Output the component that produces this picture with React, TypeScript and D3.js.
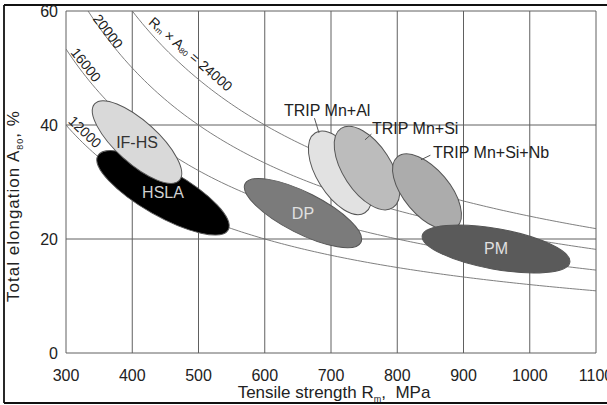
import React from "react";
import * as d3 from "d3";

// ---- data ----
const xTicks = [300, 400, 500, 600, 700, 800, 900, 1000, 1100];
const yTicks = [0, 20, 40, 60];
const products = [12000, 16000, 20000, 24000];
const productLabelRm = [328.7, 330.2, 363.4, 488.2];

const grades = ["HSLA", "IF-HS", "DP", "TRIP Mn+Al", "TRIP Mn+Si", "TRIP Mn+Si+Nb", "PM"];
const rmStart = [348.0, 343.2, 570.3, 676.0, 715.2, 800.2, 837.7];
const elStart = [34.6, 43.7, 29.7, 38.6, 39.4, 34.4, 20.6];
const rmEnd = [544.8, 471.2, 745.1, 751.2, 793.4, 889.6, 1060.5];
const elEnd = [21.6, 30.3, 19.4, 24.6, 25.5, 22.1, 15.9];

// callouts for TRIP grades (data coords)
const calloutGrades = ["TRIP Mn+Al", "TRIP Mn+Si", "TRIP Mn+Si+Nb"];
const calloutTextRm = [629.1, 761.9, 853.9];
const calloutTextEl = [41.6, 38.4, 34.2];
const leaderFromRm = [675.0, 761.0, 850.0];
const leaderFromEl = [41.2, 38.4, 34.7];
const leaderToRm = [681.9, 751.3, 835.8];
const leaderToEl = [38.6, 37.4, 33.9];

// ---- styles ----
const halfWidths = [23, 21, 20.5, 23, 24, 23, 20.3];
const fills = ["#000000", "#d9d9d9", "#7b7b7b", "#e2e2e2", "#bcbcbc", "#acacac", "#5a5a5a"];
const labelColors = ["#d0d0d0", "#333333", "#e0e0e0", "", "", "", "#e0e0e0"];
const FONT = "'Liberation Sans', Arial, Helvetica, sans-serif";

export default function App() {
  const W = 607, H = 405;
  const x = d3.scaleLinear().domain([300, 1100]).range([66, 596]);
  const y = d3.scaleLinear().domain([0, 60]).range([353, 11]);
  const line = d3.line<[number, number]>().x(d => x(d[0])).y(d => y(d[1])).curve(d3.curveMonotoneX);

  const curvePaths = products.map(C => {
    const start = Math.max(300, C / 60);
    const pts: [number, number][] = [];
    for (let r = start; r <= 1100; r += 5) pts.push([r, C / r]);
    pts.push([1100, C / 1100]);
    return line(pts) as string;
  });

  const ellipses = grades.map((g, i) => {
    const x1 = x(rmStart[i]), y1 = y(elStart[i]);
    const x2 = x(rmEnd[i]), y2 = y(elEnd[i]);
    const cx = (x1 + x2) / 2, cy = (y1 + y2) / 2;
    const a = Math.hypot(x2 - x1, y2 - y1) / 2;
    const ang = (Math.atan2(y2 - y1, x2 - x1) * 180) / Math.PI;
    return { g, cx, cy, a, b: halfWidths[i], ang, fill: fills[i], lc: labelColors[i] };
  });

  const labelFor = (i: number) => {
    const C = products[i];
    const r = productLabelRm[i];
    const px = x(r), py = y(C / r);
    const slope = (y(C / (r + 1)) - y(C / r)) / (x(r + 1) - x(r));
    const ang = (Math.atan(slope) * 180) / Math.PI;
    return { px, py, ang };
  };
  const labelOffsets = [13, 12, 8, 18.8];

  return (
    <div style={{ position: "fixed", left: 0, top: 0 }}>
      <svg width={W} height={H} style={{ display: "block", background: "#fff" }} fontFamily={FONT}>
        <defs>
          <clipPath id="plot">
            <rect x={66} y={11} width={530} height={342} />
          </clipPath>
        </defs>
        {/* outer frame */}
        <line x1={4} y1={5} x2={607} y2={5} stroke="#111" strokeWidth={1.8} />
        <line x1={4} y1={5} x2={4} y2={403} stroke="#111" strokeWidth={1.8} />
        <line x1={4} y1={403} x2={607} y2={403} stroke="#111" strokeWidth={1.8} />

        {/* grid */}
        {xTicks.map(t => (
          <line key={"gx" + t} x1={x(t)} x2={x(t)} y1={y(60)} y2={y(0)} stroke="#606060" strokeWidth={1} />
        ))}
        {yTicks.map(t => (
          <line key={"gy" + t} x1={x(300)} x2={x(1100)} y1={y(t)} y2={y(t)} stroke="#606060" strokeWidth={1} />
        ))}

        {/* Rm x A curves */}
        <g clipPath="url(#plot)">
          {curvePaths.map((d, i) => (
            <path key={"c" + i} d={d} fill="none" stroke="#707070" strokeWidth={0.9} />
          ))}
        </g>

        {/* curve labels */}
        {products.map((C, i) => {
          const L = labelFor(i);
          const off = labelOffsets[i];
          return (
            <g key={"cl" + i} transform={`translate(${L.px},${L.py - off}) rotate(${L.ang})`}>
              {i < 3 ? (
                <text textAnchor="middle" dominantBaseline="central" fontSize={14} fill="#222">
                  {String(C)}
                </text>
              ) : (
                <text textAnchor="middle" dominantBaseline="central" fontSize={14} fill="#222">
                  <tspan>R</tspan>
                  <tspan fontSize={8} dy={3}>m</tspan>
                  <tspan dy={-3}> × A</tspan>
                  <tspan fontSize={8} dy={3}>80</tspan>
                  <tspan dy={-3}> = {String(C)}</tspan>
                </text>
              )}
            </g>
          );
        })}

        {/* grade ellipses */}
        {ellipses.map(e => (
          <ellipse
            key={"e" + e.g}
            cx={e.cx}
            cy={e.cy}
            rx={e.a}
            ry={e.b}
            transform={`rotate(${e.ang},${e.cx},${e.cy})`}
            fill={e.fill}
            stroke="#555"
            strokeWidth={1}
          />
        ))}
        {ellipses.map(e =>
          e.lc ? (
            <text
              key={"t" + e.g}
              x={e.cx}
              y={e.cy}
              textAnchor="middle"
              dominantBaseline="central"
              fontSize={16}
              fill={e.lc}
            >
              {e.g}
            </text>
          ) : null
        )}

        {/* TRIP callouts */}
        {calloutGrades.map((g, i) => (
          <g key={"co" + g}>
            <line
              x1={x(leaderFromRm[i])}
              y1={y(leaderFromEl[i])}
              x2={x(leaderToRm[i])}
              y2={y(leaderToEl[i])}
              stroke="#555"
              strokeWidth={1}
            />
            <text x={x(calloutTextRm[i])} y={y(calloutTextEl[i])} fontSize={16} fill="#222">
              {g}
            </text>
          </g>
        ))}

        {/* tick labels */}
        {xTicks.map(t => (
          <text key={"xt" + t} x={x(t)} y={381} textAnchor="middle" fontSize={16} fill="#222">
            {t}
          </text>
        ))}
        {yTicks.map(t => (
          <text key={"yt" + t} x={58} y={y(t)} textAnchor="end" dominantBaseline="central" fontSize={16} fill="#222">
            {t}
          </text>
        ))}

        {/* axis titles */}
        <text x={334} y={398} textAnchor="middle" fontSize={17} fill="#222">
          <tspan>Tensile strength R</tspan>
          <tspan fontSize={9} dy={4}>m</tspan>
          <tspan dy={-4}>,{"\u00a0\u00a0"}MPa</tspan>
        </text>
        <text
          transform="translate(19,206) rotate(-90)"
          textAnchor="middle"
          fontSize={17}
          fill="#222"
          letterSpacing={1}
        >
          <tspan>Total elongation A</tspan>
          <tspan fontSize={9} dy={4}>80</tspan>
          <tspan dy={-4}>, %</tspan>
        </text>
      </svg>
    </div>
  );
}
